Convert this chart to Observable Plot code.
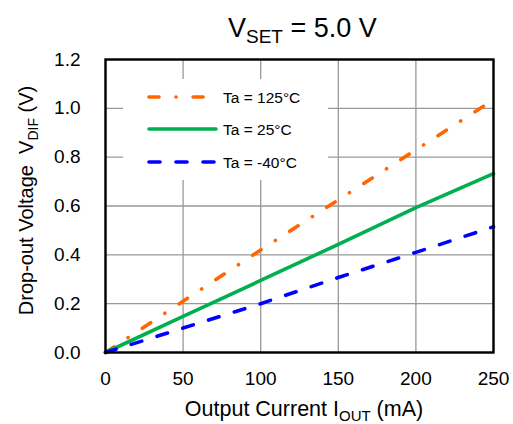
<!DOCTYPE html>
<html>
<head>
<meta charset="utf-8">
<script src="https://cdn.jsdelivr.net/npm/d3@7"></script>
<script src="https://cdn.jsdelivr.net/npm/@observablehq/plot@0.6"></script>
<style>
  html, body { margin: 0; padding: 0; background: #fff; }
  svg { font-family: "Liberation Sans", Arial, sans-serif; }
</style>
</head>
<body>
<div id="chart"></div>
<script>
// ---- data ----
const current = [0, 50, 100, 150, 200, 250];          // mA
const v125 = [0, 0.21, 0.42, 0.625, 0.83, 1.035];     // Ta = 125°C
const v25  = [0, 0.148, 0.295, 0.443, 0.593, 0.733];  // Ta = 25°C
const vm40 = [0, 0.10, 0.20, 0.307, 0.41, 0.515];     // Ta = -40°C
const seriesNames = ["Ta = 125°C", "Ta = 25°C", "Ta = -40°C"];
const xTicks = [0, 50, 100, 150, 200, 250];
const yTicks = [0, 0.2, 0.4, 0.6, 0.8, 1.0, 1.2];

const styles = [
  {color: "#ff6600", dash: "10,17,0.1,17"},
  {color: "#00b050", dash: null},
  {color: "#0000ff", dash: "11,16"}
];
const seriesVals = [v125, v25, vm40];
const rows = [];
seriesVals.forEach((vals, s) => vals.forEach((v, i) => rows.push({series: seriesNames[s], x: current[i], y: v})));

const W = 513, H = 424;
const mL = 105, mR = 20, mT = 59, mB = 72;

const lineMarks = seriesNames.map((name, s) =>
  Plot.line(rows.filter(r => r.series === name), {
    x: "x", y: "y",
    stroke: styles[s].color,
    strokeWidth: 3.6,
    strokeDasharray: styles[s].dash || undefined,
    strokeLinecap: "round"
  })
);

const plot = Plot.plot({
  width: W, height: H,
  marginLeft: mL, marginRight: mR, marginTop: mT, marginBottom: mB,
  style: {fontFamily: "Liberation Sans, Arial, sans-serif", fontSize: "19px", color: "#000", background: "#fff"},
  x: {domain: [0, 250]},
  y: {domain: [0, 1.2]},
  marks: [
    Plot.gridX(xTicks, {stroke: "#999", strokeOpacity: 1, strokeWidth: 1.3}),
    Plot.gridY(yTicks, {stroke: "#999", strokeOpacity: 1, strokeWidth: 1.3}),
    Plot.axisX(xTicks, {tickSize: 0, tickPadding: 19, fontSize: 19, label: null, tickFormat: d => String(d)}),
    Plot.axisY(yTicks, {tickSize: 0, tickPadding: 25, fontSize: 19, label: null, tickFormat: d => d.toFixed(1)}),
    ...lineMarks,
    Plot.frame({stroke: "#000", strokeWidth: 2.4})
  ]
});

document.getElementById("chart").appendChild(plot);

const svg = d3.select(plot);

// Legend: white box over gridlines, beneath the data lines
const lg = svg.insert("g", () => svg.selectAll("[aria-label=line]").node());
lg.append("rect").attr("x", mL + 18).attr("y", mT + 20)
  .attr("width", 205).attr("height", 101).attr("fill", "#fff");
const legendRowsY = [97, 129, 162];
seriesNames.forEach((name, s) => {
  const y = legendRowsY[s];
  lg.append("line").attr("x1", 149).attr("x2", 216).attr("y1", y).attr("y2", y)
    .attr("stroke", styles[s].color).attr("stroke-width", 3.6)
    .attr("stroke-linecap", "round")
    .attr("stroke-dasharray", styles[s].dash);
  lg.append("text").attr("x", 223).attr("y", y + 5.5)
    .attr("text-anchor", "start")
    .attr("font-size", 15.5).attr("fill", "#000").text(name);
});

// Title
const title = svg.append("text").attr("x", 228).attr("y", 37)
  .attr("text-anchor", "start")
  .attr("font-size", 27).attr("fill", "#000");
title.append("tspan").text("V");
title.append("tspan").attr("font-size", 19).attr("dy", 6).text("SET");
title.append("tspan").attr("dy", -6).text(" = 5.0 V");

// X axis label
const xl = svg.append("text").attr("x", 304).attr("y", 416)
  .attr("text-anchor", "middle").attr("font-size", 21.5).attr("fill", "#000");
xl.append("tspan").text("Output Current I");
xl.append("tspan").attr("font-size", 15).attr("dy", 5).text("OUT");
xl.append("tspan").attr("dy", -5).text(" (mA)");

// Y axis label
const yl = svg.append("text")
  .attr("transform", `translate(33, 200.5) rotate(-90)`)
  .attr("text-anchor", "middle").attr("font-size", 20).attr("fill", "#000");
yl.append("tspan").text("Drop-out Voltage  V");
yl.append("tspan").attr("font-size", 14).attr("dy", 5).text("DIF");
yl.append("tspan").attr("dy", -5).text(" (V)");
</script>
</body>
</html>
